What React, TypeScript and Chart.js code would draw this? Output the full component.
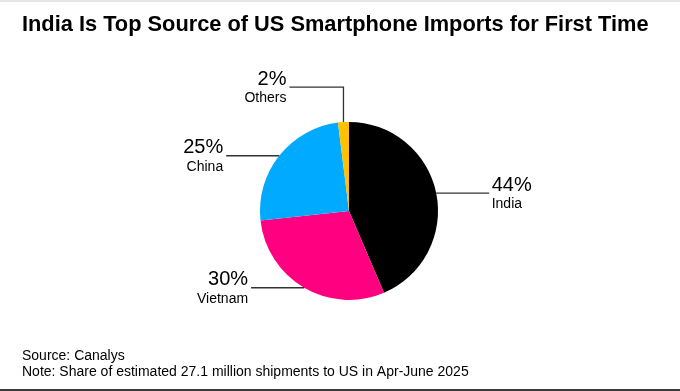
import { useEffect, useRef } from 'react';
import { Chart, registerables } from 'chart.js';

Chart.register(...registerables);

const categories = ['India', 'Vietnam', 'China', 'Others'];
const shares = [44, 30, 25, 2];
const shareLabels = ['44%', '30%', '25%', '2%'];
const sliceColors = ['#000000', '#FF0080', '#00AAFF', '#FFC000'];
const titleText = 'India Is Top Source of US Smartphone Imports for First Time';
const footerLines = [
  'Source: Canalys',
  'Note: Share of estimated 27.1 million shipments to US in Apr-June 2025',
];

const FONT = '"Liberation Sans", Arial, Helvetica, sans-serif';

const leaderPlugin = {
  id: 'leaderLabels',
  afterDatasetsDraw(chart: any) {
    const ctx = chart.ctx as CanvasRenderingContext2D;
    const meta = chart.getDatasetMeta(0);
    meta.data.forEach((arc: any, i: number) => {
      const { x, y, startAngle, endAngle, outerRadius } = arc.getProps(
        ['x', 'y', 'startAngle', 'endAngle', 'outerRadius'],
        true
      );
      const mid = (startAngle + endAngle) / 2;
      const px = x + outerRadius * Math.cos(mid);
      const py = y + outerRadius * Math.sin(mid);
      const dir = Math.cos(mid) >= 0 ? 1 : -1;
      let ex: number;
      let ey: number;
      ctx.save();
      ctx.strokeStyle = '#333333';
      ctx.lineWidth = 1.3;
      ctx.beginPath();
      ctx.moveTo(px, py);
      if (Math.abs(Math.sin(mid)) > 0.95) {
        const vy = py + (Math.sin(mid) < 0 ? -35 : 35);
        ctx.lineTo(px, vy);
        ex = px + dir * 54;
        ey = vy;
      } else {
        ex = px + dir * 53;
        ey = py;
      }
      ctx.lineTo(ex, ey);
      ctx.stroke();

      const tx = dir > 0 ? ex + 2.5 : ex - 3;
      ctx.textAlign = dir > 0 ? 'left' : 'right';
      ctx.textBaseline = 'alphabetic';
      ctx.fillStyle = '#000000';
      ctx.font = `20px ${FONT}`;
      ctx.fillText(shareLabels[i], tx, ey - 2.5);
      ctx.font = `14px ${FONT}`;
      ctx.fillText(categories[i], tx, ey + 14.8);
      ctx.restore();
    });
  },
};

export default function App() {
  const ref = useRef<HTMLCanvasElement | null>(null);

  useEffect(() => {
    if (!ref.current) return;
    const chart = new Chart(ref.current, {
      type: 'pie',
      data: {
        labels: categories,
        datasets: [
          {
            data: shares,
            backgroundColor: sliceColors,
            borderWidth: 0,
            radius: 89,
          } as any,
        ],
      },
      options: {
        responsive: false,
        animation: false,
        devicePixelRatio: 1,
        layout: { padding: { left: 22, right: 4, top: 0, bottom: 0 } },
        plugins: {
          legend: { display: false },
          tooltip: { enabled: false },
          title: {
            display: true,
            text: titleText,
            align: 'start',
            color: '#000000',
            font: { family: FONT, size: 21.8, weight: 'bold', lineHeight: 1.2 },
            padding: { top: 12, bottom: 35.7 },
          },
          subtitle: {
            display: true,
            position: 'bottom',
            text: footerLines,
            align: 'start',
            color: '#000000',
            font: { family: FONT, size: 14, weight: 'normal', lineHeight: 16 / 14 },
            padding: { top: 0, bottom: 11 },
          },
        },
      },
      plugins: [leaderPlugin],
    });
    return () => chart.destroy();
  }, []);

  return (
    <div
      style={{
        position: 'fixed',
        top: 0,
        left: 0,
        width: 680,
        height: 391,
        background: '#ffffff',
        overflow: 'hidden',
      }}
    >
      <canvas ref={ref} width={680} height={391} style={{ display: 'block', width: 680, height: 391 }} />
      <div style={{ position: 'absolute', top: 0, left: 0, width: 680, height: 2, background: '#e6e6e6' }} />
      <div style={{ position: 'absolute', bottom: 0, left: 0, width: 680, height: 2, background: '#3a3a3a' }} />
    </div>
  );
}
